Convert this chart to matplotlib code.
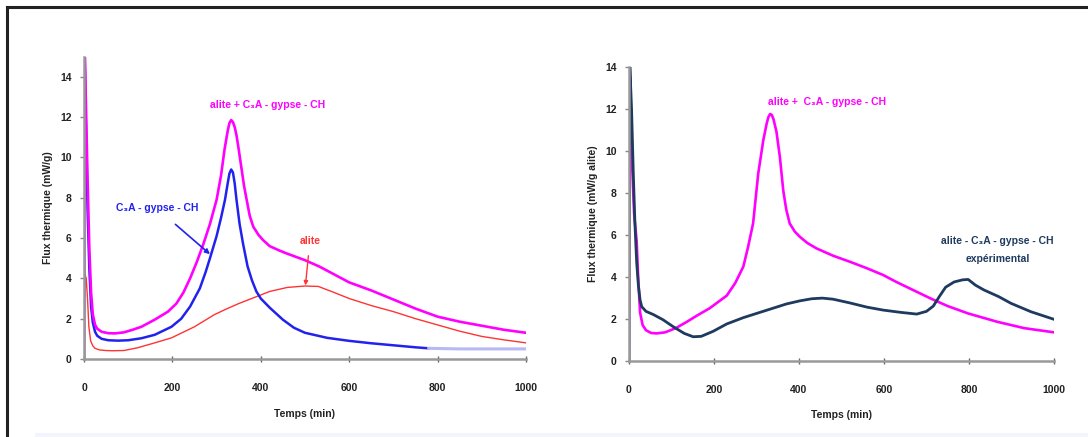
import matplotlib
matplotlib.use("Agg")
import matplotlib.pyplot as plt
from matplotlib.lines import Line2D
from matplotlib.patches import Rectangle

# ---------------- data ----------------
# Left panel : alite + C3A - gypse - CH
t_mix = [0, 1, 4, 8, 12, 16, 20, 25, 30, 40, 55, 70, 90, 110, 130, 160, 190, 209, 225, 240, 255, 270, 285,
         300, 310, 318, 325, 329, 333, 337, 341, 345, 350, 356, 362, 368, 375, 383, 395, 405, 420, 440, 458,
         500, 533, 570, 600, 650, 700, 750, 800, 850, 900, 950, 1000]
q_mix = [0, 16, 13, 9, 5.5, 3.3, 2.2, 1.7, 1.5, 1.35, 1.28, 1.27, 1.32, 1.45, 1.6, 1.95, 2.35, 2.75, 3.3, 4.0,
         4.8, 5.7, 6.7, 7.9, 9.1, 10.4, 11.3, 11.7, 11.85, 11.75, 11.5, 11.1, 10.4, 9.5, 8.6, 7.9, 7.1, 6.56,
         6.15, 5.9, 5.6, 5.4, 5.24, 4.9, 4.58, 4.15, 3.8, 3.4, 2.95, 2.5, 2.1, 1.85, 1.65, 1.45, 1.3]

# Left panel : C3A - gypse - CH
t_c3a = [0, 1, 4, 8, 12, 16, 20, 25, 30, 40, 55, 77, 100, 130, 160, 198, 220, 240, 262, 275, 285, 300, 310,
         319, 325, 329, 333, 337, 341, 345, 352, 360, 370, 380, 390, 400, 420, 450, 475, 500, 550, 600, 650,
         700, 750, 780]
q_c3a = [0, 16, 12, 7.5, 4.5, 2.6, 1.8, 1.35, 1.15, 1.0, 0.93, 0.91, 0.93, 1.03, 1.2, 1.6, 2.0, 2.6, 3.5,
         4.3, 5.0, 6.1, 7.0, 7.9, 8.7, 9.2, 9.4, 9.25, 8.7, 7.9, 6.7, 5.7, 4.6, 3.9, 3.35, 3.0, 2.55, 1.95,
         1.55, 1.3, 1.05, 0.9, 0.78, 0.68, 0.58, 0.53]
t_c3a_tail = [780, 850, 900, 1000]
q_c3a_tail = [0.53, 0.5, 0.5, 0.5]

# Left panel : alite
t_alite = [0, 2, 5, 8, 11, 15, 20, 25, 35, 50, 63, 90, 120, 160, 198, 250, 295, 319, 350, 391, 420, 460,
           500, 530, 560, 600, 650, 700, 750, 800, 850, 900, 950, 1000]
q_alite = [0, 4.2, 4.0, 3.0, 1.6, 0.9, 0.65, 0.53, 0.45, 0.42, 0.41, 0.42, 0.55, 0.8, 1.05, 1.6, 2.2,
           2.45, 2.75, 3.1, 3.35, 3.55, 3.62, 3.6, 3.35, 3.0, 2.65, 2.35, 2.0, 1.69, 1.38, 1.12, 0.95, 0.8]

# Right panel : alite + C3A - gypse - CH (simulation)
t_sim = [0, 1, 4, 8, 12, 18, 22, 26, 32, 40, 52, 65, 85, 110, 136, 160, 190, 210, 230, 250, 269, 280, 292,
         304, 316, 324, 328, 332, 336, 340, 347, 355, 363, 370, 378, 390, 402, 420, 441, 480, 520, 560, 598,
         629, 670, 709, 750, 798, 867, 930, 1000]
q_sim = [0, 14, 12, 9, 7, 5.7, 3.8, 2.3, 1.7, 1.45, 1.32, 1.3, 1.35, 1.55, 1.85, 2.15, 2.5, 2.8, 3.1, 3.7,
         4.48, 5.4, 6.54, 8.9, 10.5, 11.3, 11.6, 11.75, 11.7, 11.5, 10.9, 9.7, 8.1, 7.2, 6.54, 6.15, 5.9,
         5.6, 5.35, 5.0, 4.71, 4.4, 4.08, 3.75, 3.35, 2.97, 2.6, 2.25, 1.85, 1.55, 1.35]

# Right panel : alite - C3A - gypse - CH (experimental)
t_exp = [0, 2, 6, 10, 14, 18, 22, 26, 30, 40, 57, 80, 104, 130, 151, 170, 198, 230, 269, 300, 339, 370, 402,
         430, 455, 480, 520, 560, 598, 640, 677, 700, 716, 730, 745, 765, 785, 798, 815, 835, 870, 899, 946, 1000]
q_exp = [0, 14, 12, 9, 6.5, 4.7, 3.6, 2.9, 2.57, 2.35, 2.2, 1.95, 1.62, 1.3, 1.14, 1.16, 1.4, 1.75, 2.05,
         2.25, 2.5, 2.7, 2.85, 2.95, 2.98, 2.93, 2.75, 2.55, 2.41, 2.3, 2.22, 2.35, 2.6, 3.05, 3.5, 3.75,
         3.85, 3.87, 3.6, 3.37, 3.05, 2.73, 2.33, 1.97]

x_ticks = [0, 200, 400, 600, 800, 1000]
y_ticks = [0, 2, 4, 6, 8, 10, 12, 14]

MAGENTA = "#ff00ff"
BLUE = "#2222ee"
RED = "#ff3333"
NAVY = "#1f3a5f"
GRAY = "#999999"

plt.rcParams['font.family'] = ['Liberation Sans', 'DejaVu Sans']

W, H = 1088, 437
fig = plt.figure(figsize=(W / 100, H / 100), dpi=100)

# light strip at the bottom and outer frame lines
fig.add_artist(Rectangle((35 / W, 0), 1 - 35 / W, 4.5 / H, transform=fig.transFigure,
                         facecolor="#f4f4fc", edgecolor="none"))
fig.add_artist(Line2D([7 / W, 1.0], [1 - 7 / H, 1 - 7 / H], color="#222222", lw=2.2,
                      transform=fig.transFigure))
fig.add_artist(Line2D([7 / W, 7 / W], [0, 1 - 7 / H], color="#222222", lw=2.2,
                      transform=fig.transFigure))


def style(ax, ylabel, ymax):
    ax.set_xlim(0, 1000)
    ax.set_ylim(0, ymax)
    ax.set_xticks(x_ticks)
    ax.set_yticks(y_ticks)
    for s in ("top", "right"):
        ax.spines[s].set_visible(False)
    for s in ("left", "bottom"):
        ax.spines[s].set_color(GRAY)
        ax.spines[s].set_linewidth(1.8)
    ax.tick_params(axis="x", direction="inout", length=5, width=1, color="#666666",
                   labelsize=7.5, pad=15, labelcolor="#222222")
    ax.tick_params(axis="y", direction="out", length=3, width=1, color="#888888",
                   labelsize=7.5, pad=6, labelcolor="#222222")
    for lbl in ax.get_xticklabels() + ax.get_yticklabels():
        lbl.set_fontweight("bold")
    ax.set_xlabel("Temps (min)", fontsize=7.5, fontweight="bold", labelpad=11, color="#222222")
    ax.set_ylabel(ylabel, fontsize=7.5, fontweight="bold", labelpad=5, color="#222222")
    ax.set_facecolor("none")


# ---------------- left panel ----------------
ax1 = fig.add_axes([84 / W, 78 / H, 442 / W, 302.4 / H])
ax1.plot(t_alite, q_alite, color=RED, lw=1.0)
ax1.plot(t_c3a, q_c3a, color=BLUE, lw=1.8)
ax1.plot(t_c3a_tail, q_c3a_tail, color="#b8b8f4", lw=2.2)
ax1.plot(t_mix, q_mix, color=MAGENTA, lw=1.9)
style(ax1, "Flux thermique (mW/g)", 15)

ax1.text(416, 12.6, "alite + C\u2083A - gypse - CH", color=MAGENTA, fontsize=7.5,
         fontweight="bold", ha="center", va="center")
ax1.annotate("C\u2083A - gypse - CH", xy=(285, 5.2), xytext=(165, 7.47),
             color=BLUE, fontsize=7.5, fontweight="bold", ha="center", va="center",
             arrowprops=dict(arrowstyle="-|>", color=BLUE, lw=1.2, shrinkA=9, shrinkB=0,
                             mutation_scale=7))
ax1.annotate("alite", xy=(501, 3.65), xytext=(511, 5.85),
             color=RED, fontsize=7.5, fontweight="bold", ha="center", va="center",
             arrowprops=dict(arrowstyle="-|>", color=RED, lw=1.0, shrinkA=5, shrinkB=0,
                             mutation_scale=6))

# ---------------- right panel ----------------
ax2 = fig.add_axes([629 / W, 76.3 / H, 425 / W, 294 / H])
ax2.plot(t_sim, q_sim, color=MAGENTA, lw=1.9)
ax2.plot(t_exp, q_exp, color=NAVY, lw=2.0)
style(ax2, "Flux thermique (mW/g alite)", 14)

ax2.text(467, 12.33, "alite +  C\u2083A - gypse - CH", color=MAGENTA, fontsize=7.5,
         fontweight="bold", ha="center", va="center")
ax2.text(867, 5.27, "alite - C\u2083A - gypse - CH\nexpérimental", color=NAVY, fontsize=7.5,
         fontweight="bold", ha="center", va="center", linespacing=1.9)

fig.savefig("out.png", dpi=100)
